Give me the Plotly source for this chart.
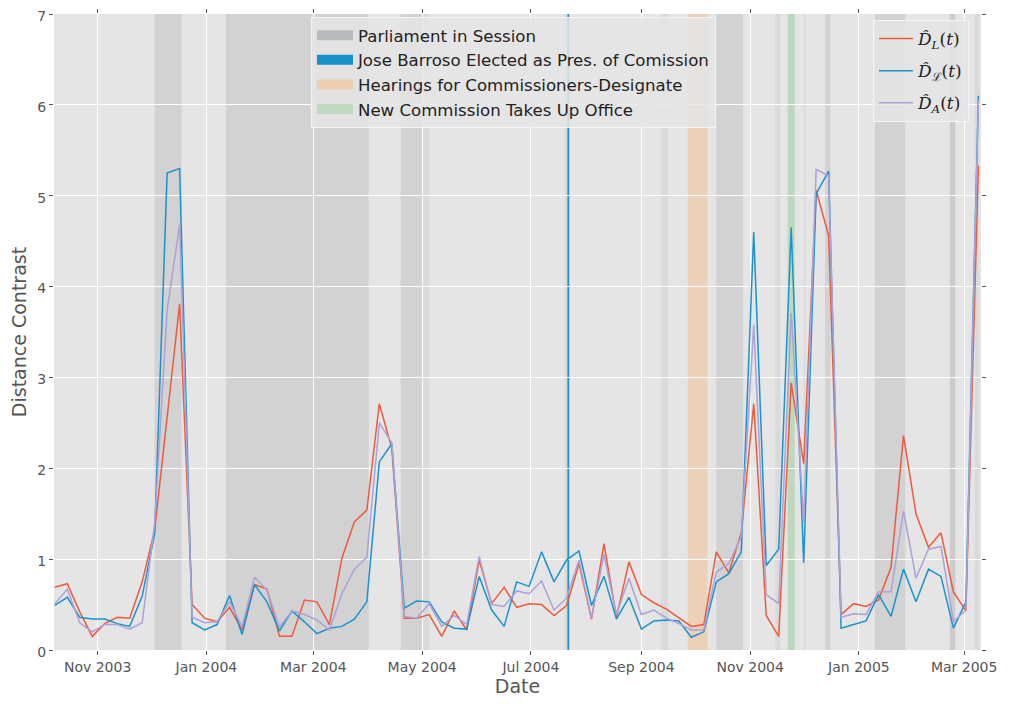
import pandas as pd
import plotly.graph_objects as go

# ---------------- data ----------------
start_date = "2003-10-08"
n_weeks = 75
dates = pd.date_range(start_date, periods=n_weeks, freq="7D")

d_L = [0.69, 0.73, 0.42, 0.15, 0.29, 0.36, 0.35, 0.75, 1.32, 2.60,
       3.81, 0.50, 0.35, 0.31, 0.47, 0.22, 0.72, 0.67, 0.15, 0.15,
       0.55, 0.53, 0.28, 1.01, 1.41, 1.54, 2.71, 2.22, 0.35, 0.35,
       0.39, 0.15, 0.43, 0.22, 0.99, 0.51, 0.69, 0.47, 0.51, 0.50,
       0.38, 0.49, 0.95, 0.34, 1.17, 0.36, 0.97, 0.61, 0.52, 0.45,
       0.35, 0.26, 0.28, 1.08, 0.85, 1.29, 2.71, 0.38, 0.15, 2.94,
       2.05, 5.06, 4.56, 0.39, 0.51, 0.48, 0.55, 0.91, 2.36, 1.50,
       1.13, 1.29, 0.64, 0.43, 5.33]

d_calL = [0.49, 0.58, 0.36, 0.34, 0.34, 0.29, 0.26, 0.59, 1.28, 5.25,
          5.30, 0.30, 0.22, 0.28, 0.60, 0.17, 0.72, 0.53, 0.21, 0.43,
          0.31, 0.18, 0.24, 0.26, 0.34, 0.53, 2.07, 2.27, 0.46, 0.54,
          0.53, 0.31, 0.24, 0.23, 0.81, 0.44, 0.26, 0.75, 0.70, 1.08,
          0.75, 0.99, 1.09, 0.49, 0.81, 0.34, 0.58, 0.23, 0.32, 0.33,
          0.32, 0.14, 0.20, 0.75, 0.84, 1.08, 4.60, 0.93, 1.11, 4.65,
          0.96, 5.02, 5.27, 0.24, 0.28, 0.32, 0.61, 0.37, 0.89, 0.53,
          0.89, 0.81, 0.24, 0.53, 6.10]

d_A = [0.51, 0.67, 0.30, 0.20, 0.28, 0.28, 0.23, 0.30, 1.39, 3.74,
       4.68, 0.36, 0.30, 0.31, 0.53, 0.26, 0.80, 0.66, 0.25, 0.43,
       0.39, 0.33, 0.22, 0.62, 0.89, 1.02, 2.50, 2.28, 0.37, 0.35,
       0.51, 0.26, 0.38, 0.28, 1.03, 0.50, 0.48, 0.65, 0.62, 0.76,
       0.44, 0.57, 0.99, 0.35, 1.05, 0.39, 0.79, 0.39, 0.44, 0.35,
       0.29, 0.22, 0.22, 0.86, 0.95, 1.25, 3.58, 0.61, 0.51, 3.71,
       1.41, 5.29, 5.22, 0.36, 0.40, 0.39, 0.64, 0.64, 1.53, 0.79,
       1.11, 1.14, 0.31, 0.44, 6.05]

# parliament sessions (overlapping periods listed separately)
session_starts = ["2003-12-03", "2003-12-03", "2004-01-12", "2004-01-12",
                  "2004-04-19", "2004-04-19", "2004-07-20", "2004-09-12",
                  "2004-10-13", "2004-10-13", "2004-11-15", "2004-12-01",
                  "2004-12-13", "2004-12-13", "2005-01-10", "2005-01-10",
                  "2005-02-21", "2005-02-21", "2005-02-21", "2005-03-07"]
session_ends = ["2003-12-18", "2003-12-18", "2004-04-01", "2004-04-01",
                "2004-05-05", "2004-05-01", "2004-07-22", "2004-09-16",
                "2004-10-28", "2004-10-28", "2004-11-18", "2004-12-02",
                "2004-12-16", "2004-12-16", "2005-01-27", "2005-01-27",
                "2005-02-24", "2005-02-24", "2005-02-24", "2005-03-09 12:00"]

barroso_date = "2004-07-22"
hearings_start, hearings_end = "2004-09-27", "2004-10-08"
new_comm_start, new_comm_end = "2004-11-22", "2004-11-26"

x_range = ["2003-10-07 13:00", "2005-03-10 11:00"]
y_range = [0, 7]

event_labels = ["Parliament in Session",
                "Jose Barroso Elected as Pres. of Comission",
                "Hearings for Commissioners-Designate",
                "New Commission Takes Up Office"]
series_labels = ["<i>D̂</i><sub><i>L</i></sub>(<i>t</i>)",
                 "<i>D̂</i><sub>ℒ</sub>(<i>t</i>)",
                 "<i>D̂</i><sub><i>A</i></sub>(<i>t</i>)"]

# ---------------- styles ----------------
RED = "#ee5a3c"
BLUE = "#1a93cc"
PURPLE = "#aaa2d8"
SESSION_FILL = "rgba(189,190,194,0.27)"
HEAR_FILL = "rgba(245,185,130,0.45)"
NEW_FILL = "rgba(140,200,140,0.45)"
event_icon_colors = ["#b9babd", "#1a8fc8", "#edd0b3", "#bfd8bf"]
TXT = "#555555"

fig = go.Figure()

for s, e in zip(session_starts, session_ends):
    fig.add_shape(type="rect", xref="x", yref="paper", x0=s, x1=e, y0=0, y1=1,
                  fillcolor=SESSION_FILL, line_width=0, layer="between")
fig.add_shape(type="rect", xref="x", yref="paper", x0=hearings_start, x1=hearings_end,
              y0=0, y1=1, fillcolor=HEAR_FILL, line_width=0, layer="between")
fig.add_shape(type="rect", xref="x", yref="paper", x0=new_comm_start, x1=new_comm_end,
              y0=0, y1=1, fillcolor=NEW_FILL, line_width=0, layer="between")
fig.add_shape(type="line", xref="x", yref="paper", x0=barroso_date, x1=barroso_date,
              y0=0, y1=1, line=dict(color=BLUE, width=1.8), layer="between")

for name, col in zip(event_labels, event_icon_colors):
    fig.add_trace(go.Scatter(x=[None], y=[None], mode="lines", name=name,
                             line=dict(color=col, width=11), legend="legend",
                             hoverinfo="skip"))

for i, (vals, name, col) in enumerate(zip([d_L, d_calL, d_A], series_labels,
                                          [RED, BLUE, PURPLE])):
    fig.add_trace(go.Scatter(x=dates, y=vals, mode="lines", name=name,
                             line=dict(color=col, width=1.5), legend="legend2",
                             legendgroup="g%d" % i))

# page has an 8px body margin: figure is sized/offset to match the reference frame
fig.update_layout(
    width=1008, height=689,
    margin=dict(l=46, r=35, t=6, b=47, autoexpand=False),
    paper_bgcolor="white", plot_bgcolor="#E5E5E5",
    font=dict(family="DejaVu Sans", color=TXT),
    legend=dict(x=0.2772, y=0.9953, xanchor="left", yanchor="top",
                bgcolor="rgba(229,229,229,0.85)", bordercolor="#f4f4f4", borderwidth=1,
                font=dict(family="DejaVu Sans", size=16.6, color="#222222"),
                itemwidth=36),
    legend2=dict(x=0.987, y=0.9906, xanchor="right", yanchor="top",
                 bgcolor="rgba(229,229,229,0.85)", bordercolor="#f4f4f4", borderwidth=1,
                 font=dict(family="DejaVu Serif", size=17, color="#222222"),
                 itemwidth=34, traceorder="grouped", tracegroupgap=7),
    xaxis=dict(type="date", range=x_range, tick0="2003-11-01", dtick="M2",
               tickformat="%b %Y", showgrid=True, gridcolor="white", gridwidth=1.3,
               ticks="outside", ticklen=4, tickcolor=TXT, mirror="ticks",
               showline=False, zeroline=False, automargin=False,
               ticklabeloverflow="allow",
               tickfont=dict(size=14, color=TXT),
               title=dict(text="Date", font=dict(size=19, color=TXT), standoff=9)),
    yaxis=dict(range=y_range, dtick=1, showgrid=True, gridcolor="white", gridwidth=1.3,
               ticks="outside", ticklen=4, tickcolor=TXT, mirror="ticks",
               showline=False, zeroline=False, automargin=False,
               ticklabeloverflow="allow", ticklabelshift=2,
               tickfont=dict(size=14, color=TXT),
               title=dict(text="Distance Contrast", font=dict(size=19, color=TXT), standoff=10)),
)

fig.write_html("out.html")
